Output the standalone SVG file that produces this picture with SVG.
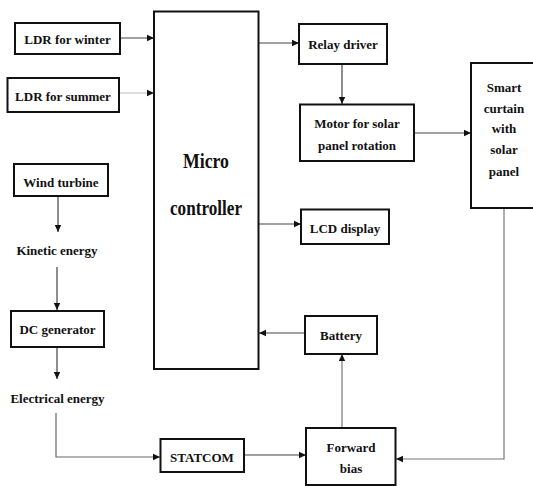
<svg xmlns="http://www.w3.org/2000/svg" width="533" height="486" viewBox="0 0 533 486">
<defs>
<marker id="ah" markerWidth="8" markerHeight="8" refX="7" refY="4" orient="auto" markerUnits="userSpaceOnUse">
<path d="M0,0.8 L7,4 L0,7.2 Z" fill="#111"/>
</marker>
<style>
.box{fill:#fff;stroke:#111;stroke-width:2}
.t{font-family:"Liberation Serif","Times New Roman",serif;font-weight:bold;font-size:13px;fill:#111;text-anchor:middle}
.big{font-size:20px}
.c{fill:none;stroke:#444;stroke-width:1.2}
.ca{fill:none;stroke:#444;stroke-width:1.2;marker-end:url(#ah)}
</style>
</defs>
<rect width="533" height="486" fill="#fff"/>
<g id="connectors">
<line class="ca" x1="120" y1="38" x2="154" y2="38"/>
<line class="ca" x1="119" y1="93" x2="154" y2="93" style="stroke:#bbb"/>
<line class="ca" x1="259" y1="43" x2="299" y2="43"/>
<line class="ca" x1="342" y1="64" x2="342" y2="104"/>
<line class="ca" x1="414" y1="133" x2="471" y2="133"/>
<line class="ca" x1="259" y1="224" x2="301" y2="224"/>
<line class="ca" x1="305" y1="333" x2="259" y2="333"/>
<line class="ca" x1="342" y1="428" x2="342" y2="354" style="stroke:#777"/>
<polyline class="ca" points="504,208 504,459 396,459" style="stroke:#777"/>
<line class="ca" x1="58" y1="196" x2="58" y2="232"/>
<line class="ca" x1="57" y1="267" x2="57" y2="310"/>
<line class="ca" x1="57" y1="347" x2="57" y2="379"/>
<polyline class="ca" points="56,413 56,457 160,457" style="stroke:#666"/>
<line class="ca" x1="244" y1="455" x2="306" y2="455"/>
</g>
<g id="ldr-winter"><rect class="box" x="15" y="23" width="105" height="31"/><text class="t" x="67.5" y="44">LDR for winter</text></g>
<g id="ldr-summer"><rect class="box" x="7.5" y="78" width="111.5" height="34"/><text class="t" x="63" y="100.5">LDR for summer</text></g>
<g id="microcontroller"><rect class="box" x="154" y="11.5" width="104.5" height="357.5"/><text class="t big" x="206" y="168" textLength="46" lengthAdjust="spacingAndGlyphs">Micro</text><text class="t big" x="206" y="215" textLength="72" lengthAdjust="spacingAndGlyphs">controller</text></g>
<g id="relay-driver"><rect class="box" x="299" y="24" width="88" height="40"/><text class="t" x="343" y="48.5">Relay driver</text></g>
<g id="motor"><rect class="box" x="300" y="104.5" width="114" height="56.5"/><text class="t" x="357" y="127.5">Motor for solar</text><text class="t" x="357" y="149.5">panel rotation</text></g>
<g id="smart-curtain"><rect class="box" x="471" y="63" width="66" height="145"/><text class="t" x="504" y="91.5">Smart</text><text class="t" x="504" y="112.5">curtain</text><text class="t" x="504" y="133">with</text><text class="t" x="504" y="154">solar</text><text class="t" x="504" y="176">panel</text></g>
<g id="lcd-display"><rect class="box" x="301" y="209.5" width="88" height="34.5"/><text class="t" x="345" y="232.5">LCD display</text></g>
<g id="wind-turbine"><rect class="box" x="14" y="164" width="94" height="32"/><text class="t" x="61" y="186.5">Wind turbine</text></g>
<g id="kinetic-energy"><text class="t" x="57" y="254.5">Kinetic energy</text></g>
<g id="dc-generator"><rect class="box" x="11" y="311" width="93" height="36"/><text class="t" x="57.5" y="333.5">DC generator</text></g>
<g id="electrical-energy"><text class="t" x="57.5" y="402.5">Electrical energy</text></g>
<g id="statcom"><rect class="box" x="160.5" y="439" width="83.5" height="33"/><text class="t" x="202" y="462">STATCOM</text></g>
<g id="battery"><rect class="box" x="305" y="316" width="72" height="38"/><text class="t" x="341" y="339.5">Battery</text></g>
<g id="forward-bias"><rect class="box" x="306" y="428" width="89.5" height="57"/><text class="t" x="351" y="451.5">Forward</text><text class="t" x="351" y="473">bias</text></g>
</svg>
